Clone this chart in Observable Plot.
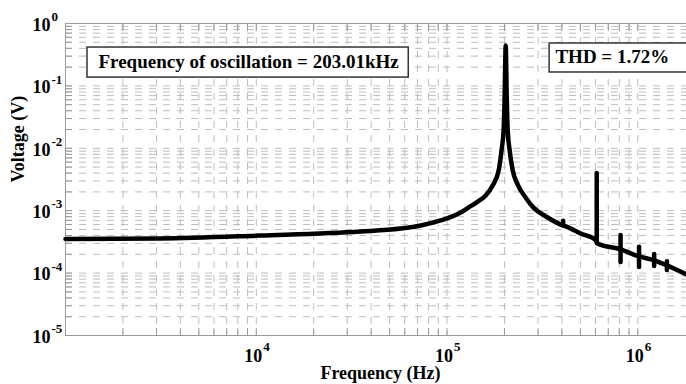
<!DOCTYPE html>
<html><head><meta charset="utf-8">
<script src="https://cdn.jsdelivr.net/npm/d3@7"></script>
<script src="https://cdn.jsdelivr.net/npm/@observablehq/plot@0.6"></script>
<style>html,body{margin:0;padding:0;background:#fff;overflow:hidden}</style>
</head><body><div id="chart"></div>
<script>
// Spectrum envelope (frequency in Hz, voltage in V)
const freqHz = [1000, 3150, 10500, 35200, 57100, 72800, 92500, 118000, 133000, 145000, 159000, 173400, 186500, 193000, 198000, 200500, 203010,
  205500, 208000, 213000, 221000, 235000, 258000, 284000, 337000, 394000, 420000, 501000, 605000,
  615000, 812000, 1015000, 1218000, 1421000, 1800000];
const voltageV = [3.52e-4, 3.58e-4, 4.0e-4, 4.64e-4, 5.19e-4, 5.8e-4, 6.97e-4, 9.35e-4, 1.18e-3, 1.4e-3, 1.73e-3, 2.53e-3, 4.41e-3, 9.2e-3, 0.0193, 0.07, 0.444,
  0.07, 0.0193, 9.2e-3, 4.4e-3, 2.6e-3, 1.63e-3, 1.12e-3, 7.78e-4, 6.0e-4, 5.6e-4, 4.31e-4, 3.36e-4,
  2.98e-4, 2.4e-4, 1.85e-4, 1.6e-4, 1.33e-4, 9.5e-5];
// Harmonic spikes (frequency, top and bottom of each spike)
const harmonicHz = [406000, 609000, 812000, 1015000, 1218000, 1421000];
const harmonicTopV = [6.8e-4, 3.95e-3, 4.0e-4, 2.6e-4, 1.99e-4, 1.52e-4];
const harmonicBottomV = [5.8e-4, 2.98e-4, 1.48e-4, 1.23e-4, 1.27e-4, 1.1e-4];

const xDomain = [1000, 1.8e6];
const yDomain = [1e-5, 1];
const xDecades = [1e3, 1e4, 1e5, 1e6];
const yDecades = [1e-5, 1e-4, 1e-3, 1e-2, 1e-1, 1];
const mantissas = [1, 2, 3, 4, 5, 6, 7, 8, 9];
const xLabelValues = [1e4, 1e5, 1e6];
const xLabelExps = ["4", "5", "6"];
const yLabelValues = [1, 1e-1, 1e-2, 1e-3, 1e-4, 1e-5];
const yLabelExps = ["0", "-1", "-2", "-3", "-4", "-5"];
const xTitle = "Frequency (Hz)";
const yTitle = "Voltage (V)";
const annotations = [
  {label: "Frequency of oscillation = 203.01kHz", x1: 1304, x2: 63000, y1: 0.136, y2: 0.412, tx: 1489, ty: 0.246},
  {label: "THD = 1.72%", x1: 345000, x2: 3e6, y1: 0.164, y2: 0.478, tx: 370000, ty: 0.296}
];

const xTicks = xDecades.flatMap(d => mantissas.map(m => m * d)).filter(v => v >= xDomain[0] && v <= xDomain[1]);
const yTicks = yDecades.flatMap(d => mantissas.map(m => m * d)).filter(v => v >= yDomain[0] && v <= yDomain[1]);
const spectrum = freqHz.map((f, i) => ({f, v: voltageV[i]}));
const harmonics = harmonicHz.map((f, i) => ({f, top: harmonicTopV[i], bottom: harmonicBottomV[i]}));

const font = "'Liberation Serif', 'Times New Roman', serif";
const gridStyle = {stroke: "#bdbdbd", strokeWidth: 1, strokeDasharray: "7,7", strokeOpacity: 1};

const chart = Plot.plot({
  width: 686, height: 384,
  marginLeft: 65, marginRight: 0, marginTop: 23, marginBottom: 49,
  x: {type: "log", domain: xDomain, axis: null},
  y: {type: "log", domain: yDomain, axis: null},
  style: {fontFamily: font, background: "#fff", overflow: "hidden"},
  marks: [
    Plot.ruleY(yTicks, {y: d => d, ...gridStyle}),
    Plot.ruleX(xTicks, {x: d => d, ...gridStyle}),
    Plot.axisX({ticks: xTicks, anchor: "bottom", tickSize: -7, tickFormat: () => "", stroke: "#999", label: null}),
    Plot.axisX({ticks: xTicks, anchor: "top", tickSize: -7, tickFormat: () => "", stroke: "#999", label: null}),
    Plot.axisY({ticks: yTicks, anchor: "left", tickSize: -7, tickFormat: () => "", stroke: "#999", label: null}),
    Plot.ruleX([xDomain[0]], {stroke: "#999", strokeWidth: 1}),
    Plot.ruleY(yDomain, {stroke: "#999", strokeWidth: 1}),
    Plot.rect(annotations, {x1: "x1", x2: "x2", y1: "y1", y2: "y2", fill: "white", stroke: "#333", strokeWidth: 1.5}),
    Plot.text(annotations, {x: "tx", y: "ty", text: "label", textAnchor: "start", lineAnchor: "middle", fontSize: 19, fontWeight: "bold", fill: "black"}),
    Plot.line(spectrum, {x: "f", y: "v", stroke: "black", strokeWidth: 4.5, curve: "monotone-x"}),
    Plot.ruleX(harmonics, {x: "f", y1: "bottom", y2: "top", stroke: "black", strokeWidth: 4.5, strokeLinecap: "round"}),
    Plot.text(xLabelValues, {x: d => d, frameAnchor: "bottom", text: () => "10", textAnchor: "end", lineAnchor: "middle", dx: 6, dy: 21, fontSize: 18, fontWeight: "bold", fill: "black"}),
    Plot.text(xLabelValues, {x: d => d, frameAnchor: "bottom", text: (d, i) => xLabelExps[i], textAnchor: "start", lineAnchor: "middle", dx: 7, dy: 11, fontSize: 13, fontWeight: "bold", fill: "black"}),
    Plot.text(yLabelValues, {y: d => d, frameAnchor: "left", text: () => "10", textAnchor: "end", lineAnchor: "middle", dx: -15, dy: 1.5, fontSize: 18, fontWeight: "bold", fill: "black"}),
    Plot.text(yLabelValues, {y: d => d, frameAnchor: "left", text: (d, i) => yLabelExps[i], textAnchor: "start", lineAnchor: "middle", dx: -14, dy: -6.5, fontSize: 13, fontWeight: "bold", fill: "black"}),
    Plot.text([xTitle], {frameAnchor: "bottom", text: d => d, lineAnchor: "middle", dx: 4.5, dy: 38, fontSize: 18, fontWeight: "bold", fill: "black"}),
    Plot.text([yTitle], {frameAnchor: "left", text: d => d, rotate: -90, lineAnchor: "middle", dx: -47, dy: 3, fontSize: 18, fontWeight: "bold", fill: "black"})
  ]
});
document.getElementById("chart").appendChild(chart);
</script>
</body></html>
